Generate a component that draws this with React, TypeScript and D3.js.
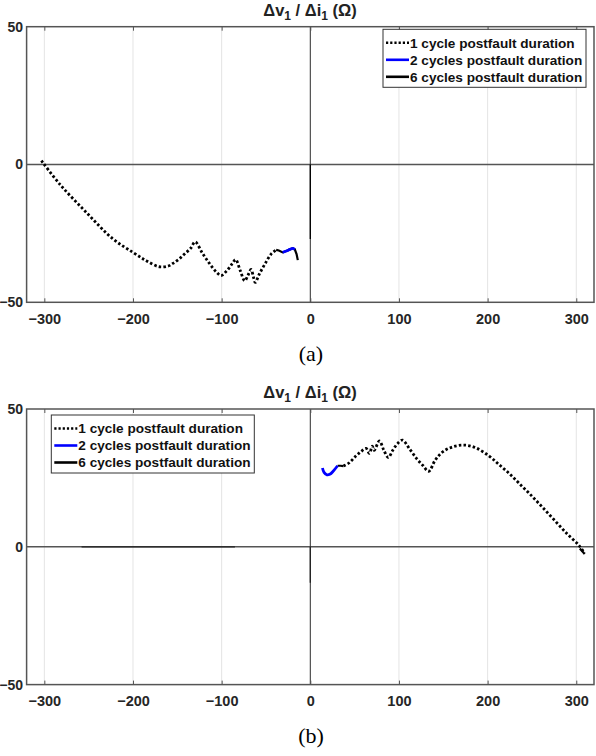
import * as d3 from "d3";
import { useEffect, useRef } from "react";

// ticks and legend text
const xTicks = [-300, -200, -100, 0, 100, 200, 300];
const yTicks = [-50, 0, 50];
const legendLabels = [
  "1 cycle postfault duration",
  "2 cycles postfault duration",
  "6 cycles postfault duration",
];

// panel (a): trajectories [R, X]
const cycle1A = [
  [-303.3, 1.4], [-282.7, -7.1], [-252.6, -17.4], [-222.6, -27.0], [-200, -31.9],
  [-185, -34.9], [-170.5, -37.1], [-160, -36.8], [-155, -35.9], [-148, -34.3],
  [-141.9, -32.5], [-135, -30.4], [-129.8, -28.1], [-122, -32], [-114, -35.8],
  [-106, -39], [-100.6, -40.3], [-94, -38.5], [-88, -36], [-84.2, -34.5],
  [-79, -38.5], [-74, -42.2], [-70, -40], [-66.8, -38.1], [-64, -41],
  [-62.1, -42.8], [-57.4, -39.7], [-51, -36], [-44.2, -32.5], [-38.5, -31],
];
const cycle2A = [
  [-31.2, -31.9], [-27, -31.4], [-23, -30.8], [-19.7, -30.4], [-17.5, -30.8],
];
const cycle6A = [
  [[-38.5, -31], [-35.5, -31.2], [-31.2, -31.9], [-27, -31.4], [-23, -30.8],
    [-19.7, -30.4], [-17.5, -30.8], [-15.5, -32.5], [-14.1, -34.7]],
  [[0, 0], [0, -27]],
];

// panel (b)
const cycle1B = [
  [37.3, 29.3], [44, 30.5], [51.6, 33.0], [57, 34.5], [62.9, 35.7], [66.6, 33.9],
  [70, 36.5], [72, 35], [78, 38.4], [83, 35], [88, 32.4], [93, 35], [98.5, 37.5],
  [104, 38.7], [112, 35.5], [120, 32], [127, 29.5], [133.5, 27.4], [141, 31.5],
  [149.2, 34.4], [160, 36.2], [173.6, 36.9], [186.8, 35.9], [201.8, 32.9],
  [213, 29.8], [224.3, 26.6], [235, 23.2], [246.9, 19.4], [260, 15], [275, 9.8],
  [290, 4.6], [302.8, 0.6], [309.2, -2.4],
];
const cycle2B = [
  [13.7, 28.6], [15.5, 27], [18.8, 26.1], [22, 26.3], [26, 27.5], [30.8, 29.4],
];
const cycle6B = [
  [[30.8, 29.4], [34, 29.4], [37.3, 29.3]],
  [[304, -0.6], [309.5, -2.6]],
  [[-258, 0], [-85, 0]],
  [[0, 0], [0, -13]],
];

const left = 26.6;
const right = 594;
const plotH = 275.6;

function Title({ cx, y }) {
  return (
    <text x={cx} y={y} textAnchor="middle" fontFamily="Liberation Sans, Arial, sans-serif"
      fontWeight="bold" fontSize={16.5} fill="#222">
      Δv<tspan fontSize={12} dy={4}>1</tspan>
      <tspan dy={-4}> / Δi</tspan>
      <tspan fontSize={12} dy={4}>1</tspan>
      <tspan dy={-4}> (Ω)</tspan>
    </text>
  );
}

function Panel({ top, c1, c2, c6, legX, legY, tag }) {
  const gxRef = useRef();
  const gtRef = useRef();
  const gyRef = useRef();

  const x = d3.scaleLinear().domain([-320, 320]).range([left, right]);
  const y = d3.scaleLinear().domain([-50, 50]).range([top + plotH, top]);
  const line = d3.line().x((d) => x(d[0])).y((d) => y(d[1])).curve(d3.curveCatmullRom.alpha(0.5));
  const straight = d3.line().x((d) => x(d[0])).y((d) => y(d[1]));

  useEffect(() => {
    const xAxis = d3.axisBottom(x).tickValues(xTicks).tickSize(-4).tickPadding(11.5);
    d3.select(gxRef.current).call(xAxis).call((g) => {
      g.select(".domain").remove();
      g.selectAll("line").attr("stroke", "#555");
      g.selectAll("text")
        .attr("font-family", "Liberation Sans, Arial, sans-serif")
        .attr("font-weight", "bold")
        .attr("font-size", 14.5)
        .attr("fill", "#262626");
    });
    const topAxis = d3.axisTop(x).tickValues(xTicks).tickSize(-4).tickFormat(() => "");
    d3.select(gtRef.current).call(topAxis).call((g) => {
      g.select(".domain").remove();
      g.selectAll("line").attr("stroke", "#555");
    });
    const yAxis = d3.axisLeft(y).tickValues(yTicks).tickSize(0).tickPadding(3.5);
    d3.select(gyRef.current).call(yAxis).call((g) => {
      g.select(".domain").remove();
      g.selectAll("text")
        .attr("font-family", "Liberation Sans, Arial, sans-serif")
        .attr("font-weight", "bold")
        .attr("font-size", 14)
        .attr("fill", "#262626");
    });
  });

  const rowH = 17;
  return (
    <g>
      {xTicks.map((t) => (
        <line key={t} x1={x(t)} x2={x(t)} y1={top} y2={top + plotH} stroke="#e4e4e4" strokeWidth={1} />
      ))}
      <line x1={left} x2={right} y1={y(0)} y2={y(0)} stroke="#555" strokeWidth={1.6} />
      <line x1={x(0)} x2={x(0)} y1={top} y2={top + plotH} stroke="#333" strokeWidth={1} />

      {c6.map((seg, i) => (
        <path key={i} d={straight(seg)} fill="none" stroke={i < 2 ? "#000" : "#222"}
          strokeWidth={i < 2 && seg[0][0] !== 0 ? 2.2 : 1.3} />
      ))}
      <path d={line(c1)} fill="none" stroke="#000" strokeWidth={2.8} strokeDasharray="2.5 2.2" />
      <path d={line(c2)} fill="none" stroke="#0000ff" strokeWidth={2.8} />

      <rect x={left} y={top} width={right - left} height={plotH} fill="none" stroke="#555" strokeWidth={1.5} />
      <g ref={gxRef} transform={`translate(0,${top + plotH})`} />
      <g ref={gtRef} transform={`translate(0,${top})`} />
      <g ref={gyRef} transform={`translate(${left},0)`} />

      <g transform={`translate(${legX},${legY})`}>
        <rect x={0} y={0} width={203} height={58} fill="#fff" stroke="#333" strokeWidth={1} />
        {legendLabels.map((lab, i) => (
          <g key={lab} transform={`translate(0,${13.5 + i * rowH})`}>
            <line x1={3} x2={26} y1={0} y2={0}
              stroke={i === 1 ? "#0000ff" : "#000"}
              strokeWidth={2.6}
              strokeDasharray={i === 0 ? "2.2 2" : null} />
            <text x={27} y={4.8} fontFamily="Liberation Sans, Arial, sans-serif" fontWeight="bold"
              fontSize={13.6} fill="#111">{lab}</text>
          </g>
        ))}
      </g>

      <Title cx={310} y={top - 11} />
      <text x={311} y={top + 334} textAnchor="middle" fontFamily="Liberation Serif, Times New Roman, serif"
        fontSize={22} fill="#000">{tag}</text>
    </g>
  );
}

export default function App() {
  return (
    <svg width={596} height={756} style={{ position: "absolute", left: 0, top: 0, background: "#fff" }}>
      <Panel top={26.7} c1={cycle1A} c2={cycle2A} c6={cycle6A} legX={383} legY={29.3} tag="(a)" />
      <Panel top={409} c1={cycle1B} c2={cycle2B} c6={cycle6B} legX={51.3} legY={415} tag="(b)" />
    </svg>
  );
}
